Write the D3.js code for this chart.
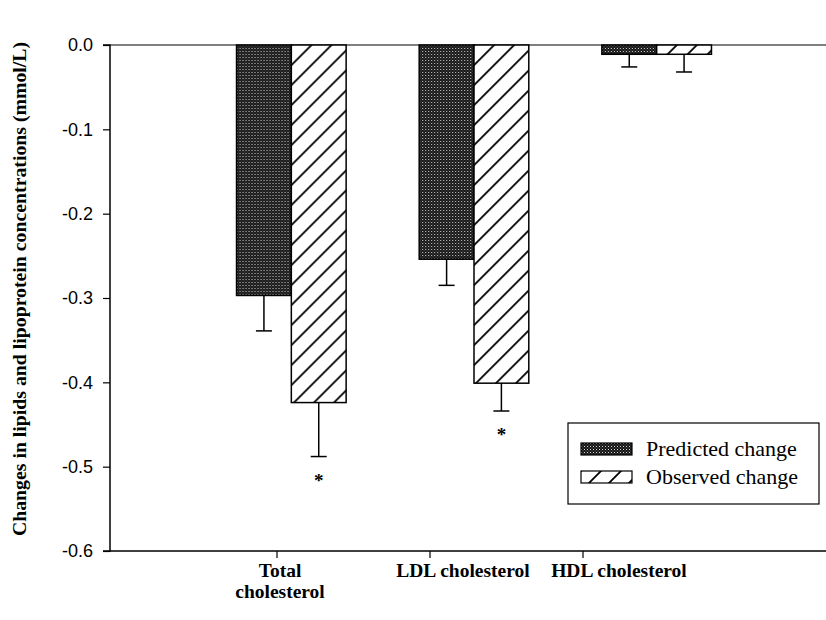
<!DOCTYPE html>
<html>
<head>
<meta charset="utf-8">
<script src="https://cdn.jsdelivr.net/npm/d3@7"></script>
<style>
  body { margin: 0; background: #fff; }
  svg { display: block; }
</style>
</head>
<body>
<svg id="chart"></svg>
<script>
// Data
const categories = ['Total cholesterol', 'LDL cholesterol', 'HDL cholesterol']
const categoryLines = [['Total', 'cholesterol'], ['LDL cholesterol'], ['HDL cholesterol']]
const seriesNames = ['Predicted change', 'Observed change']
const predicted = [-0.297, -0.254, -0.011]
const predictedErr = [0.042, 0.031, 0.015]
const observed = [-0.424, -0.401, -0.011]
const observedErr = [0.064, 0.033, 0.021]
const significant = [true, true, false]
const yTicks = [0, -0.1, -0.2, -0.3, -0.4, -0.5, -0.6]

const width = 826
const height = 620
const plotLeft = 110
const plotTop = 45
const plotBottom = 551

const serif = 'Liberation Serif, Times New Roman, serif'

const svg = d3.select('#chart').attr('width', width).attr('height', height)

const defs = svg.append('defs')

// Dark stipple for predicted bars
const stipple = defs.append('pattern')
  .attr('id', 'stipple')
  .attr('patternUnits', 'userSpaceOnUse')
  .attr('width', 3)
  .attr('height', 3)
stipple.append('rect').attr('width', 3).attr('height', 3).attr('fill', '#151515')
stipple.append('rect').attr('x', 0).attr('y', 0).attr('width', 1).attr('height', 1).attr('fill', '#d8d8d8')
stipple.append('rect').attr('x', 1.5).attr('y', 1.5).attr('width', 1).attr('height', 1).attr('fill', '#707070')

// Diagonal hatch for observed bars
const hatch = defs.append('pattern')
  .attr('id', 'hatch')
  .attr('patternUnits', 'userSpaceOnUse')
  .attr('width', 20)
  .attr('height', 20)
hatch.append('rect').attr('width', 20).attr('height', 20).attr('fill', '#fff')
hatch.append('path')
  .attr('d', 'M0,20 L20,0 M-5,5 L5,-5 M15,25 L25,15')
  .attr('stroke', '#000')
  .attr('stroke-width', 1.8)

const fills = ['url(#stipple)', 'url(#hatch)']

// Scales
const y = d3.scaleLinear().domain([-0.6, 0]).range([plotBottom, plotTop])

const x0 = d3.scaleBand()
  .domain(categories)
  .range([200, 748])
  .paddingInner(0.4)
  .paddingOuter(0.2)

const x1 = d3.scaleBand()
  .domain(seriesNames)
  .range([0, x0.bandwidth()])

// category ticks sit left of the bar groups in the original
const xTick = d3.scalePoint().domain(categories).range([277, 583])
const labelShift = [3, 33, 36]

const rows = categories.map((c, i) => [
  { cat: c, series: seriesNames[0], value: predicted[i], err: predictedErr[i], fill: fills[0], star: false },
  { cat: c, series: seriesNames[1], value: observed[i], err: observedErr[i], fill: fills[1], star: significant[i] },
])

// Zero line
svg.append('line')
  .attr('x1', plotLeft).attr('x2', width)
  .attr('y1', y(0)).attr('y2', y(0))
  .attr('stroke', '#000').attr('stroke-width', 1.2)

// Bars
const groups = svg.selectAll('.group')
  .data(rows)
  .enter()
  .append('g')
  .attr('class', 'group')
  .attr('transform', d => `translate(${x0(d[0].cat)},0)`)

groups.selectAll('rect')
  .data(d => d)
  .enter()
  .append('rect')
  .attr('x', d => x1(d.series))
  .attr('y', y(0))
  .attr('width', x1.bandwidth())
  .attr('height', d => y(d.value) - y(0))
  .attr('fill', d => d.fill)
  .attr('stroke', '#000')
  .attr('stroke-width', 1.5)

// Error bars (one-sided, away from zero)
const errs = groups.selectAll('.err')
  .data(d => d)
  .enter()
  .append('g')
  .attr('class', 'err')
  .attr('transform', d => `translate(${x1(d.series) + x1.bandwidth() / 2},0)`)

errs.append('line')
  .attr('x1', 0).attr('x2', 0)
  .attr('y1', d => y(d.value))
  .attr('y2', d => y(d.value - d.err))
  .attr('stroke', '#000').attr('stroke-width', 1.5)

errs.append('line')
  .attr('x1', -8).attr('x2', 8)
  .attr('y1', d => y(d.value - d.err))
  .attr('y2', d => y(d.value - d.err))
  .attr('stroke', '#000').attr('stroke-width', 1.5)

errs.filter(d => d.star)
  .append('text')
  .attr('y', d => y(d.value - d.err) + 30)
  .attr('text-anchor', 'middle')
  .attr('font-family', serif)
  .attr('font-weight', 'bold')
  .attr('font-size', 19)
  .text('*')

// Y axis
const yAxis = svg.append('g')
  .attr('transform', `translate(${plotLeft},0)`)
  .call(d3.axisLeft(y)
    .tickValues(yTicks)
    .tickSize(7)
    .tickPadding(10)
    .tickFormat(d => d.toFixed(1).replace('-0.0', '0.0')))
yAxis.select('.domain').attr('stroke-width', 1.5).attr('d', `M-7,${plotTop}H0V${plotBottom}H-7`)
yAxis.selectAll('.tick line').attr('stroke-width', 1.2)
yAxis.selectAll('.tick text')
  .attr('font-family', 'Liberation Sans, Arial, sans-serif')
  .attr('font-size', 18)
  .attr('fill', '#000')

// X axis line and ticks
svg.append('line')
  .attr('x1', plotLeft).attr('x2', width)
  .attr('y1', plotBottom).attr('y2', plotBottom)
  .attr('stroke', '#000').attr('stroke-width', 1.5)

svg.selectAll('.xtick')
  .data(categories)
  .enter()
  .append('line')
  .attr('class', 'xtick')
  .attr('x1', d => xTick(d)).attr('x2', d => xTick(d))
  .attr('y1', plotBottom).attr('y2', plotBottom + 7)
  .attr('stroke', '#000').attr('stroke-width', 1.2)

const xLabels = svg.selectAll('.xlabel')
  .data(categories)
  .enter()
  .append('text')
  .attr('class', 'xlabel')
  .attr('text-anchor', 'middle')
  .attr('font-family', serif)
  .attr('font-weight', 'bold')
  .attr('font-size', 19.5)
  .attr('transform', (d, i) => `translate(${xTick(d) + labelShift[i]},${plotBottom + 26})`)

xLabels.selectAll('tspan')
  .data((d, i) => categoryLines[i])
  .enter()
  .append('tspan')
  .attr('x', 0)
  .attr('dy', (d, i) => (i === 0 ? 0 : 21))
  .text(d => d)

// Y axis title
svg.append('text')
  .attr('transform', 'translate(26,289) rotate(-90)')
  .attr('text-anchor', 'middle')
  .attr('font-family', serif)
  .attr('font-weight', 'bold')
  .attr('font-size', 19.8)
  .text('Changes in lipids and lipoprotein concentrations (mmol/L)')

// Legend
const legend = svg.append('g').attr('transform', 'translate(568,423)')
legend.append('rect')
  .attr('width', 251).attr('height', 81)
  .attr('fill', '#fff')
  .attr('stroke', '#000').attr('stroke-width', 1.2)

const items = legend.selectAll('.legend-item')
  .data(seriesNames)
  .enter()
  .append('g')
  .attr('class', 'legend-item')
  .attr('transform', (d, i) => `translate(13,${20 + i * 28})`)

items.append('rect')
  .attr('width', 51).attr('height', 12)
  .attr('fill', (d, i) => fills[i])
  .attr('stroke', '#000').attr('stroke-width', 1.2)

items.append('text')
  .attr('x', 65)
  .attr('y', 13)
  .attr('font-family', serif)
  .attr('font-size', 22)
  .text(d => d)
</script>
</body>
</html>
